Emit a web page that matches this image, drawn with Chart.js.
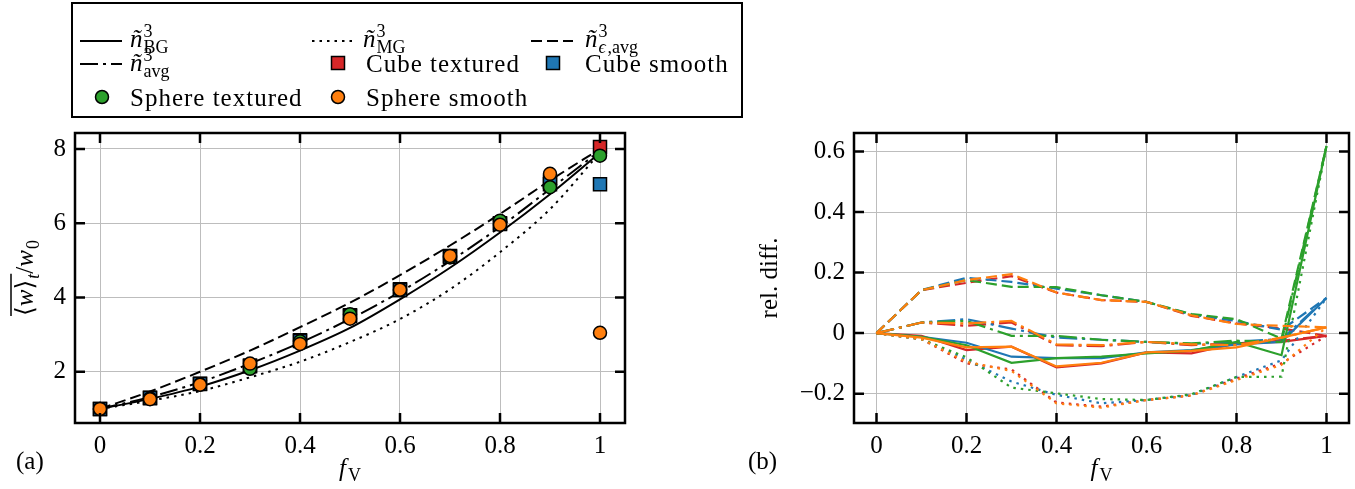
<!DOCTYPE html>
<html>
<head>
<meta charset="utf-8">
<script src="https://cdn.jsdelivr.net/npm/chart.js@4.4.0/dist/chart.umd.min.js"></script>
<style>
  html, body { margin: 0; padding: 0; background: #fff; }
  #wrap { position: relative; width: 1355px; height: 489px; overflow: hidden; }
  #left { position: absolute; left: 0; top: 0; }
  #right { position: absolute; left: 745px; top: 0; }
</style>
</head>
<body>
<div id="wrap">
  <canvas id="left" width="745" height="489"></canvas>
  <canvas id="right" width="610" height="489"></canvas>
</div>
<script>
// volume fraction samples
const fV = [0, 0.1, 0.2, 0.3, 0.4, 0.5, 0.6, 0.7, 0.8, 0.9, 1];
const xTicks = [0, 0.2, 0.4, 0.6, 0.8, 1];
const yTicksA = [2, 4, 6, 8];
const yTicksB = [-0.2, 0, 0.2, 0.4, 0.6];

// model curves, <w>_t / w0
const modelBG = [1.0, 1.27, 1.6, 2.04, 2.57, 3.18, 3.95, 4.8, 5.75, 6.78, 7.9];
const modelMG = [1.0, 1.22, 1.48, 1.85, 2.27, 2.8, 3.42, 4.22, 5.22, 6.38, 7.9];
const modelEps = [1.0, 1.47, 2.0, 2.57, 3.2, 3.86, 4.6, 5.4, 6.25, 7.15, 8.0];
const modelAvg = [1.0, 1.32, 1.72, 2.22, 2.78, 3.42, 4.15, 4.98, 5.9, 6.92, 7.95];

// measured values
const cubeTextured = [1.0, 1.3, 1.68, 2.17, 2.85, 3.52, 4.22, 5.12, 6.0, 7.05, 8.05];
const cubeSmooth = [1.0, 1.29, 1.67, 2.15, 2.83, 3.5, 4.2, 5.1, 5.98, 7.12, 7.05];
const sphereTextured = [1.0, 1.28, 1.66, 2.08, 2.82, 3.55, 4.2, 5.08, 6.07, 6.97, 7.82];
const sphereSmooth = [1.0, 1.26, 1.65, 2.22, 2.75, 3.43, 4.21, 5.12, 5.96, 7.33, 3.05];

// relative differences (panel b)
const relBgCubeTex = [0, -0.009, -0.056, -0.045, -0.113, -0.1, -0.064, -0.067, -0.034, -0.029, -0.009];
const relBgCubeSmooth = [0, -0.012, -0.032, -0.078, -0.083, -0.083, -0.064, -0.056, -0.037, -0.029, 0.116];
const relBgSphereTex = [0, -0.012, -0.04, -0.098, -0.083, -0.078, -0.067, -0.058, -0.029, -0.073, 0.618];
const relBgSphereSmooth = [0, -0.015, -0.047, -0.045, -0.11, -0.098, -0.064, -0.059, -0.047, -0.015, 0.019];

const relMgCubeTex = [0, -0.02, -0.1, -0.12, -0.229, -0.243, -0.221, -0.206, -0.15, -0.1, -0.009];
const relMgCubeSmooth = [0, -0.02, -0.088, -0.16, -0.204, -0.232, -0.221, -0.204, -0.145, -0.09, 0.116];
const relMgSphereTex = [0, -0.02, -0.08, -0.18, -0.199, -0.218, -0.221, -0.202, -0.145, -0.144, 0.618];
const relMgSphereSmooth = [0, -0.02, -0.095, -0.125, -0.232, -0.246, -0.221, -0.206, -0.155, -0.105, 0.019];

const relEpsCubeTex = [0, 0.142, 0.166, 0.188, 0.134, 0.109, 0.103, 0.057, 0.032, 0.015, -0.009];
const relEpsCubeSmooth = [0, 0.142, 0.183, 0.169, 0.147, 0.125, 0.103, 0.061, 0.04, 0.011, 0.116];
const relEpsSphereTex = [0, 0.142, 0.175, 0.153, 0.152, 0.125, 0.103, 0.063, 0.046, -0.018, 0.618];
const relEpsSphereSmooth = [0, 0.142, 0.175, 0.195, 0.134, 0.109, 0.103, 0.059, 0.03, 0.024, 0.019];

const relAvgCubeTex = [0, 0.035, 0.024, 0.035, -0.04, -0.043, -0.029, -0.04, -0.034, -0.025, -0.009];
const relAvgCubeSmooth = [0, 0.035, 0.046, 0.015, -0.015, -0.022, -0.029, -0.036, -0.028, -0.02, 0.116];
const relAvgSphereTex = [0, 0.035, 0.04, -0.009, -0.009, -0.022, -0.029, -0.034, -0.025, -0.03, 0.618];
const relAvgSphereSmooth = [0, 0.035, 0.032, 0.04, -0.037, -0.04, -0.029, -0.037, -0.04, -0.015, 0.019];

const RED = '#d62728', BLUE = '#1f77b4', GREEN = '#2ca02c', ORANGE = '#ff7f0e';
const SERIF = "'Liberation Serif', 'DejaVu Serif', serif";
const FS = 25, FS_SMALL = 18;
const GRID = '#bdbdbd';

const DASH = {
    solid: [],
    dotted: [2.5, 5],
    dashed: [11, 5],
    dashdot: [18, 5, 3, 5]
};

const pts = arr => fV.map((x, i) => ({ x, y: arr[i] }));

function fmtTick(v) {
    const r = Math.round(v * 10) / 10;
    if (r === 0) return '0';
    const a = Math.abs(r);
    const s = Number.isInteger(a) ? String(a) : a.toFixed(1);
    return (r < 0 ? '\u2212' : '') + s;
}

// draws a run of text pieces (italic / roman, sub / superscripts)
function drawParts(ctx, x, y, parts, align, spacing) {
    ctx.letterSpacing = (spacing || 0) + 'px';
    const widths = parts.map(p => {
        ctx.font = (p.it ? 'italic ' : '') + (p.sz || FS) + 'px ' + SERIF;
        return ctx.measureText(p.t).width;
    });
    let prevStart = 0, maxEnd = 0;
    const xs = [];
    parts.forEach((p, i) => {
        const start = p.stack ? prevStart : maxEnd;
        xs.push(start + (p.kx || 0));
        prevStart = start;
        maxEnd = Math.max(maxEnd, start + (p.kx || 0) + widths[i]);
    });
    const ox = align === 'center' ? x - maxEnd / 2 : x;
    ctx.textBaseline = 'alphabetic';
    ctx.textAlign = 'left';
    ctx.fillStyle = '#000';
    parts.forEach((p, i) => {
        ctx.font = (p.it ? 'italic ' : '') + (p.sz || FS) + 'px ' + SERIF;
        ctx.fillText(p.t, ox + xs[i], y + (p.dy || 0));
    });
    ctx.letterSpacing = '0px';
    return { x0: ox, ends: parts.map((p, i) => ox + xs[i] + widths[i]) };
}

const nTilde = subParts => [
    { t: '\u00f1', it: true },
    { t: '3', sz: FS_SMALL, dy: -10, kx: 1 },
    ...subParts.map((s, i) => Object.assign({ sz: FS_SMALL, dy: 6 }, s, i === 0 ? { stack: true, kx: 1 } : {}))
];

function drawSample(ctx, x0, x1, y, kind) {
    ctx.save();
    ctx.strokeStyle = '#000';
    ctx.lineWidth = 2;
    ctx.lineCap = 'butt';
    ctx.setLineDash(DASH[kind]);
    ctx.beginPath();
    ctx.moveTo(x0, y);
    ctx.lineTo(x1, y);
    ctx.stroke();
    ctx.restore();
}

function drawMarker(ctx, x, y, shape, color) {
    ctx.save();
    ctx.fillStyle = color;
    ctx.strokeStyle = '#000';
    ctx.lineWidth = 1.5;
    ctx.beginPath();
    if (shape === 'rect') ctx.rect(x - 6.5, y - 6.5, 13, 13);
    else ctx.arc(x, y, 6.5, 0, Math.PI * 2);
    ctx.fill();
    ctx.stroke();
    ctx.restore();
}

// frame with inward ticks on all four sides
const framePlugin = {
    id: 'frame',
    afterDraw(chart) {
        const { ctx, chartArea: a, scales: { x, y } } = chart;
        ctx.save();
        ctx.strokeStyle = '#000';
        ctx.lineWidth = 2.5;
        ctx.beginPath();
        x.ticks.forEach(t => {
            const px = x.getPixelForValue(t.value);
            ctx.moveTo(px, a.bottom); ctx.lineTo(px, a.bottom - 10);
            ctx.moveTo(px, a.top); ctx.lineTo(px, a.top + 10);
        });
        y.ticks.forEach(t => {
            const py = y.getPixelForValue(t.value);
            ctx.moveTo(a.left, py); ctx.lineTo(a.left + 10, py);
            ctx.moveTo(a.right, py); ctx.lineTo(a.right - 10, py);
        });
        ctx.stroke();
        ctx.strokeRect(a.left, a.top, a.right - a.left, a.bottom - a.top);
        ctx.restore();
    }
};

const fvTitle = [{ t: 'f', it: true }, { t: 'V', sz: FS_SMALL, dy: 5, kx: 2 }];

const textPluginA = {
    id: 'textA',
    afterDraw(chart) {
        const { ctx, chartArea: a } = chart;
        ctx.save();
        drawParts(ctx, (a.left + a.right) / 2, 476, fvTitle, 'center');
        drawParts(ctx, 16, 469, [{ t: '(a)' }], 'left');

        // y axis title, rotated
        ctx.save();
        ctx.translate(33, (a.top + a.bottom) / 2);
        ctx.rotate(-Math.PI / 2);
        const r = drawParts(ctx, 0, 0, [
            { t: '\u27e8' }, { t: 'w', it: true }, { t: '\u27e9' },
            { t: 't', it: true, sz: FS_SMALL, dy: 6, kx: 1 },
            { t: '/' }, { t: 'w', it: true },
            { t: '0', sz: FS_SMALL, dy: 6, kx: 1 }
        ], 'center');
        ctx.lineWidth = 1.5;
        ctx.beginPath();
        ctx.moveTo(r.x0, -22);
        ctx.lineTo(r.ends[3], -22);
        ctx.stroke();
        ctx.restore();

        // legend box
        ctx.lineWidth = 2;
        ctx.strokeStyle = '#000';
        ctx.strokeRect(72, 3, 670, 114);

        drawSample(ctx, 80, 122, 41, 'solid');
        drawParts(ctx, 130, 47, nTilde([{ t: 'BG' }]));
        drawSample(ctx, 312, 354, 41, 'dotted');
        drawParts(ctx, 363, 47, nTilde([{ t: 'MG' }]));
        drawSample(ctx, 531, 573, 41, 'dashed');
        drawParts(ctx, 585, 47, nTilde([{ t: '\u03f5', it: true }, { t: ',avg' }]));

        drawSample(ctx, 80, 122, 64, 'dashdot');
        drawParts(ctx, 130, 71, nTilde([{ t: 'avg' }]));
        drawMarker(ctx, 338, 63, 'rect', RED);
        drawParts(ctx, 366, 72, [{ t: 'Cube textured' }], 'left', 1);
        drawMarker(ctx, 553, 63, 'rect', BLUE);
        drawParts(ctx, 585, 72, [{ t: 'Cube smooth' }], 'left', 1);

        drawMarker(ctx, 102, 97, 'circle', GREEN);
        drawParts(ctx, 130, 106, [{ t: 'Sphere textured' }], 'left', 1);
        drawMarker(ctx, 338, 97, 'circle', ORANGE);
        drawParts(ctx, 366, 106, [{ t: 'Sphere smooth' }], 'left', 1);
        ctx.restore();
    }
};

const textPluginB = {
    id: 'textB',
    afterDraw(chart) {
        const { ctx, chartArea: a } = chart;
        ctx.save();
        drawParts(ctx, (a.left + a.right) / 2, 476, fvTitle, 'center');
        drawParts(ctx, 3, 469, [{ t: '(b)' }], 'left');
        ctx.translate(32, (a.top + a.bottom) / 2);
        ctx.rotate(-Math.PI / 2);
        drawParts(ctx, 0, 0, [{ t: 'rel. diff.' }], 'center');
        ctx.restore();
    }
};

function axisX(height) {
    return {
        type: 'linear', min: -0.05, max: 1.05,
        afterBuildTicks: s => { s.ticks = xTicks.map(v => ({ value: v })); },
        afterFit: s => { s.height = height; },
        grid: { color: GRID, lineWidth: 1, drawTicks: false },
        border: { display: false },
        ticks: { color: '#000', font: { family: SERIF, size: FS }, padding: 8, maxRotation: 0, callback: fmtTick }
    };
}

function axisY(min, max, ticks, width) {
    return {
        type: 'linear', min, max,
        afterBuildTicks: s => { s.ticks = ticks.map(v => ({ value: v })); },
        afterFit: s => { s.width = width; },
        grid: { color: GRID, lineWidth: 1, drawTicks: false },
        border: { display: false },
        ticks: { color: '#000', font: { family: SERIF, size: FS }, padding: 9, callback: fmtTick }
    };
}

const modelLine = (arr, kind, order) => ({
    data: pts(arr), order,
    borderColor: '#000', borderWidth: 2, borderDash: DASH[kind], borderCapStyle: 'butt',
    pointRadius: 0, fill: false, cubicInterpolationMode: 'monotone'
});

const markers = (arr, shape, color, order) => ({
    data: pts(arr), order, showLine: false,
    pointStyle: shape, pointRadius: shape === 'rect' ? 9.2 : 6.5,
    pointBackgroundColor: color, pointBorderColor: '#000', pointBorderWidth: 1.5
});

new Chart(document.getElementById('left'), {
    type: 'line',
    data: {
        datasets: [
            markers(sphereSmooth, 'circle', ORANGE, 0),
            markers(sphereTextured, 'circle', GREEN, 1),
            markers(cubeSmooth, 'rect', BLUE, 2),
            markers(cubeTextured, 'rect', RED, 3),
            modelLine(modelBG, 'solid', 4),
            modelLine(modelMG, 'dotted', 5),
            modelLine(modelEps, 'dashed', 6),
            modelLine(modelAvg, 'dashdot', 7)
        ]
    },
    options: {
        responsive: false, animation: false, devicePixelRatio: 1,
        layout: { padding: { top: 133, right: 120, left: 0, bottom: 0 } },
        plugins: { legend: { display: false }, tooltip: { enabled: false } },
        scales: { x: axisX(66), y: axisY(0.62, 8.43, yTicksA, 75) }
    },
    plugins: [framePlugin, textPluginA]
});

const relSets = [
    // [values, colour, line kind]
    [relBgCubeTex, RED, 'solid'], [relMgCubeTex, RED, 'dotted'], [relEpsCubeTex, RED, 'dashed'], [relAvgCubeTex, RED, 'dashdot'],
    [relBgCubeSmooth, BLUE, 'solid'], [relMgCubeSmooth, BLUE, 'dotted'], [relEpsCubeSmooth, BLUE, 'dashed'], [relAvgCubeSmooth, BLUE, 'dashdot'],
    [relBgSphereTex, GREEN, 'solid'], [relMgSphereTex, GREEN, 'dotted'], [relEpsSphereTex, GREEN, 'dashed'], [relAvgSphereTex, GREEN, 'dashdot'],
    [relBgSphereSmooth, ORANGE, 'solid'], [relMgSphereSmooth, ORANGE, 'dotted'], [relEpsSphereSmooth, ORANGE, 'dashed'], [relAvgSphereSmooth, ORANGE, 'dashdot']
];

new Chart(document.getElementById('right'), {
    type: 'line',
    data: {
        datasets: relSets.map(([arr, color, kind], i) => ({
            data: pts(arr), order: relSets.length - i,
            borderColor: color, borderWidth: 2.2, borderDash: DASH[kind], borderCapStyle: 'butt',
            pointRadius: 0, fill: false, tension: 0
        }))
    },
    options: {
        responsive: false, animation: false, devicePixelRatio: 1,
        layout: { padding: { top: 133, right: 6, left: 0, bottom: 0 } },
        plugins: { legend: { display: false }, tooltip: { enabled: false } },
        scales: { x: axisX(66), y: axisY(-0.297, 0.661, yTicksB, 109) }
    },
    plugins: [framePlugin, textPluginB]
});
</script>
</body>
</html>
